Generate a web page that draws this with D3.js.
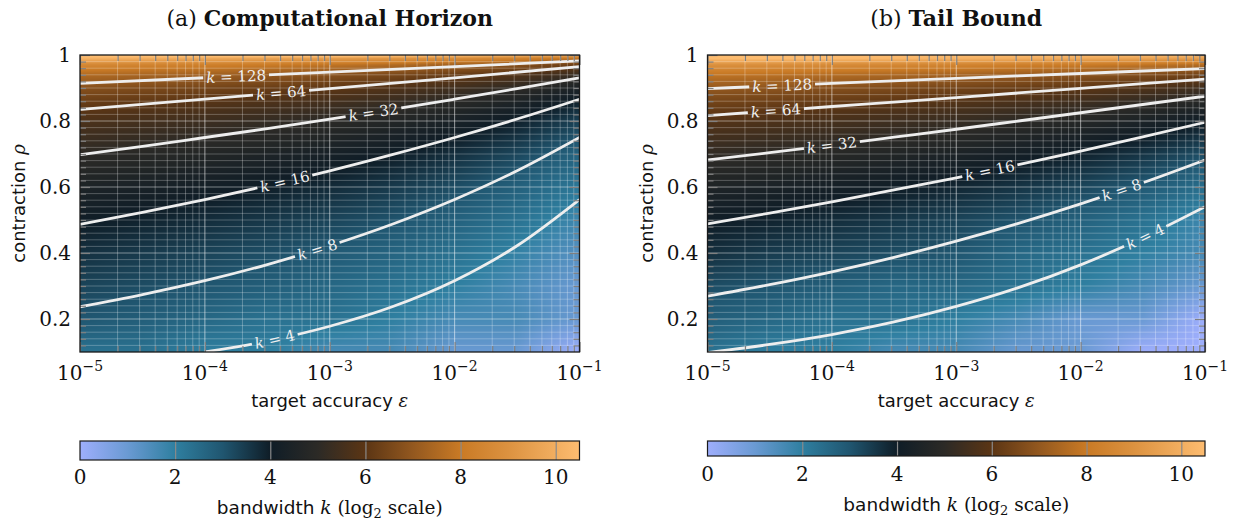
<!DOCTYPE html>
<html>
<head>
<meta charset="utf-8">
<script src="https://cdn.jsdelivr.net/npm/d3@7"></script>
<style>
  body { margin: 0; background: #fff; }
  .serif { font-family: "DejaVu Serif", serif; }
  .sans { font-family: "DejaVu Sans", sans-serif; }
</style>
</head>
<body>
<svg id="chart" width="1234" height="522"></svg>
<script>

// grid columns: log10 of target accuracy eps
var epsCols = [-5, -4.5, -4, -3.5, -3, -2.5, -2, -1.5, -1];

// rows: contraction rho
var rhoRowsA = [0.1, 0.2, 0.3, 0.4, 0.5, 0.6, 0.7, 0.8, 0.85, 0.9, 0.94, 0.97, 0.99, 0.995, 1.0];
var rhoRowsB = [0.1, 0.2, 0.3, 0.4, 0.5, 0.6, 0.7, 0.8, 0.85, 0.9, 0.94, 0.97, 0.99, 1.0];

var log2kA = [
  [2.32, 2.32, 2.00, 2.00, 1.58, 1.58, 1.00, 1.00, 0.00],
  [3.00, 2.81, 2.58, 2.32, 2.32, 2.00, 1.58, 1.58, 1.00],
  [3.32, 3.17, 3.00, 2.81, 2.58, 2.32, 2.00, 1.58, 1.00],
  [3.66, 3.50, 3.33, 3.14, 2.92, 2.66, 2.33, 1.92, 1.33],
  [4.06, 3.90, 3.73, 3.54, 3.32, 3.06, 2.73, 2.32, 1.73],
  [4.50, 4.34, 4.17, 3.98, 3.76, 3.50, 3.17, 2.76, 2.17],
  [5.02, 4.86, 4.69, 4.50, 4.28, 4.02, 3.69, 3.28, 2.69],
  [5.69, 5.53, 5.36, 5.17, 4.95, 4.69, 4.36, 3.95, 3.36],
  [6.15, 5.99, 5.82, 5.63, 5.41, 5.15, 4.82, 4.41, 3.82],
  [6.78, 6.62, 6.45, 6.26, 6.04, 5.78, 5.45, 5.04, 4.45],
  [7.55, 7.39, 7.22, 7.03, 6.81, 6.55, 6.22, 5.81, 5.22],
  [8.57, 8.41, 8.24, 8.05, 7.83, 7.57, 7.24, 6.83, 6.24],
  [10.17, 10.01, 9.84, 9.65, 9.43, 9.17, 8.84, 8.43, 7.84],
  [10.5, 10.5, 10.5, 10.5, 10.43, 10.17, 9.84, 9.43, 8.84],
  [10.5, 10.5, 10.5, 10.5, 10.5, 10.5, 10.5, 10.5, 10.5]
];

// log2 k, (b) tail bound
var log2kB = [
  [2.32, 2.00, 2.00, 1.58, 1.58, 1.00, 1.00, 0.00, 0.00],
  [2.81, 2.58, 2.32, 2.32, 2.00, 1.58, 1.00, 1.00, 0.00],
  [3.17, 3.00, 2.81, 2.58, 2.58, 2.32, 2.00, 1.58, 1.00],
  [3.70, 3.46, 3.32, 3.17, 3.00, 2.58, 2.32, 2.00, 1.58],
  [4.05, 3.90, 3.73, 3.54, 3.32, 3.05, 2.73, 2.32, 1.73],
  [4.54, 4.40, 4.23, 4.05, 3.84, 3.59, 3.29, 2.92, 2.41],
  [5.12, 4.97, 4.82, 4.64, 4.44, 4.21, 3.93, 3.59, 3.14],
  [5.85, 5.72, 5.57, 5.40, 5.22, 5.00, 4.75, 4.44, 4.05],
  [6.35, 6.22, 6.07, 5.91, 5.73, 5.53, 5.29, 5.00, 4.64],
  [7.02, 6.90, 6.76, 6.61, 6.43, 6.24, 6.01, 5.75, 5.42],
  [7.85, 7.73, 7.59, 7.45, 7.29, 7.10, 6.89, 6.65, 6.35],
  [8.94, 8.83, 8.70, 8.57, 8.41, 8.24, 8.05, 7.83, 7.57],
  [10.5, 10.5, 10.42, 10.30, 10.16, 10.01, 9.84, 9.65, 9.42],
  [10.5, 10.5, 10.5, 10.5, 10.5, 10.5, 10.5, 10.5, 10.5]
];

// contour levels and their lines as [log10 eps, rho]
var levels = [4, 8, 16, 32, 64, 128];

var contoursA = [
  [[-4, 0.1], [-3.5, 0.133], [-3, 0.178], [-2.5, 0.237], [-2, 0.316], [-1.5, 0.422], [-1, 0.562]],
  [[-5, 0.237], [-4.5, 0.274], [-4, 0.316], [-3.5, 0.365], [-3, 0.422], [-2.5, 0.487], [-2, 0.562], [-1.5, 0.649], [-1, 0.750]],
  [[-5, 0.487], [-4.5, 0.523], [-4, 0.562], [-3.5, 0.604], [-3, 0.649], [-2.5, 0.698], [-2, 0.750], [-1.5, 0.806], [-1, 0.866]],
  [[-5, 0.698], [-4.5, 0.723], [-4, 0.750], [-3.5, 0.777], [-3, 0.806], [-2.5, 0.835], [-2, 0.866], [-1.5, 0.898], [-1, 0.931]],
  [[-5, 0.835], [-4, 0.866], [-3, 0.898], [-2, 0.931], [-1, 0.965]],
  [[-5, 0.914], [-4, 0.931], [-3, 0.948], [-2, 0.965], [-1, 0.982]]
];

var contoursB = [
  [[-5, 0.098], [-4.5, 0.123], [-4, 0.153], [-3.5, 0.191], [-3, 0.238], [-2.5, 0.295], [-2, 0.364], [-1.5, 0.446], [-1, 0.540]],
  [[-5, 0.269], [-4.5, 0.304], [-4, 0.343], [-3.5, 0.387], [-3, 0.436], [-2.5, 0.490], [-2, 0.549], [-1.5, 0.613], [-1, 0.682]],
  [[-5, 0.488], [-4.5, 0.521], [-4, 0.555], [-3.5, 0.591], [-3, 0.628], [-2.5, 0.668], [-2, 0.709], [-1.5, 0.752], [-1, 0.796]],
  [[-5, 0.682], [-4.5, 0.704], [-4, 0.727], [-3.5, 0.751], [-3, 0.775], [-2.5, 0.800], [-2, 0.825], [-1.5, 0.850], [-1, 0.875]],
  [[-5, 0.816], [-4.5, 0.830], [-4, 0.844], [-3.5, 0.857], [-3, 0.871], [-2.5, 0.885], [-2, 0.899], [-1.5, 0.913], [-1, 0.927]],
  [[-5, 0.898], [-4, 0.914], [-3, 0.929], [-2, 0.944], [-1, 0.959]]
];

// where the inline labels sit (log10 eps), per level
var labelLogEpsA = [-3.44, -3.10, -3.36, -2.65, -3.39, -3.75];
var labelLogEpsB = [-1.48, -1.67, -2.73, -4.00, -4.45, -4.40];

// tick labels
var xTickExp = [-5, -4, -3, -2, -1];
var yTickLabels = ["0.2", "0.4", "0.6", "0.8", "1"];
var cbTickLabels = ["0", "2", "4", "6", "8", "10"];

// colour map
var cmapStops = [0, 1, 2, 3, 4, 5, 6, 7, 8, 9, 10.5];
var cmapColors = ["#9eaefc", "#6a9ad3", "#2f7fa0", "#205670", "#0f1d27", "#2c2a26",
                  "#5b3514", "#93581f", "#c97a25", "#dc9240", "#fdbc70"];

var color = d3.scaleLinear().domain(cmapStops).range(cmapColors)
  .interpolate(d3.interpolateRgb).clamp(true);

var svg = d3.select("#chart");
var top_ = 55, bottom = 352;

var panels = [
  {tag: "(a) ", title: "Computational Horizon", left: 80, right: 579.5, cbH: 19,
   rows: rhoRowsA, grid: log2kA, contours: contoursA, labels: labelLogEpsA, cbLab: 484, cbTitle: 514},
  {tag: "(b) ", title: "Tail Bound", left: 707.5, right: 1205, cbH: 15,
   rows: rhoRowsB, grid: log2kB, contours: contoursB, labels: labelLogEpsB, cbLab: 481, cbTitle: 511}
];

function field(grid, rows, le, rho) {
  var ci = Math.max(0, Math.min(epsCols.length - 2, d3.bisectRight(epsCols, le) - 1));
  var ri = Math.max(0, Math.min(rows.length - 2, d3.bisectRight(rows, rho) - 1));
  var tx = Math.max(0, Math.min(1, (le - epsCols[ci]) / (epsCols[ci + 1] - epsCols[ci])));
  var ty = Math.max(0, Math.min(1, (rho - rows[ri]) / (rows[ri + 1] - rows[ri])));
  var a = grid[ri][ci] * (1 - tx) + grid[ri][ci + 1] * tx;
  var b = grid[ri + 1][ci] * (1 - tx) + grid[ri + 1][ci + 1] * tx;
  return a * (1 - ty) + b * ty;
}

function rhoAt(line, le) {
  for (var i = 0; i < line.length - 1; i++) {
    if (le >= line[i][0] && le <= line[i + 1][0]) {
      var t = (le - line[i][0]) / (line[i + 1][0] - line[i][0]);
      return line[i][1] * (1 - t) + line[i + 1][1] * t;
    }
  }
  return line[line.length - 1][1];
}

var xMinor = [];
for (var d = -5; d < -1; d++) for (var m = 2; m <= 9; m++) xMinor.push(m * Math.pow(10, d));
var yMajor = [0.2, 0.4, 0.6, 0.8, 1.0];
var yMinor = d3.range(6, 50).map(function(i) { return i * 0.02; })
  .filter(function(v) { return Math.abs(v * 5 - Math.round(v * 5)) > 1e-6; });

panels.forEach(function(p, pi) {
  var w = p.right - p.left, h = bottom - top_;
  var x = d3.scaleLog().domain([1e-5, 1e-1]).range([p.left, p.right]);
  var y = d3.scaleLinear().domain([0.1, 1]).range([bottom, top_]);
  var cx = (p.left + p.right) / 2;

  // title
  var t = svg.append("text").attr("class", "serif").attr("x", cx).attr("y", 26)
    .attr("text-anchor", "middle").style("font-size", "22px").attr("fill", "#111");
  t.append("tspan").text(p.tag);
  t.append("tspan").attr("font-weight", "bold").text(p.title);

  // heatmap
  var W = Math.round(w), H = Math.round(h);
  var canvas = document.createElement("canvas");
  canvas.width = W; canvas.height = H;
  var ctx = canvas.getContext("2d");
  var img = ctx.createImageData(W, H);
  for (var j = 0; j < H; j++) {
    var rho = y.invert(top_ + j + 0.5);
    for (var i = 0; i < W; i++) {
      var le = Math.log10(x.invert(p.left + i + 0.5));
      var c = d3.rgb(color(field(p.grid, p.rows, le, rho)));
      var k = (j * W + i) * 4;
      img.data[k] = c.r; img.data[k + 1] = c.g; img.data[k + 2] = c.b; img.data[k + 3] = 255;
    }
  }
  ctx.putImageData(img, 0, 0);
  svg.append("image").attr("x", p.left).attr("y", top_).attr("width", w).attr("height", h)
    .attr("preserveAspectRatio", "none").attr("href", canvas.toDataURL());

  // grid
  var g = svg.append("g");
  g.selectAll(".vmin").data(xMinor).join("line")
    .attr("x1", x).attr("x2", x).attr("y1", top_).attr("y2", bottom)
    .attr("stroke", "#fff").attr("stroke-opacity", 0.28);
  g.selectAll(".vmaj").data(xTickExp.slice(1, 4)).join("line")
    .attr("x1", function(e) { return x(Math.pow(10, e)); }).attr("x2", function(e) { return x(Math.pow(10, e)); })
    .attr("y1", top_).attr("y2", bottom)
    .attr("stroke", "#fff").attr("stroke-opacity", 0.55);
  g.selectAll(".hmin").data(yMinor).join("line")
    .attr("y1", y).attr("y2", y).attr("x1", p.left).attr("x2", p.right)
    .attr("stroke", "#fff").attr("stroke-opacity", 0.25);
  g.selectAll(".hmaj").data(yMajor.slice(0, 4)).join("line")
    .attr("y1", y).attr("y2", y).attr("x1", p.left).attr("x2", p.right)
    .attr("stroke", "#fff").attr("stroke-opacity", 0.45);

  // clip + mask for contour gaps
  var clipId = "clip" + pi, maskId = "mask" + pi;
  var defs = svg.append("defs");
  defs.append("clipPath").attr("id", clipId).append("rect")
    .attr("x", p.left).attr("y", top_).attr("width", w).attr("height", h);
  var mask = defs.append("mask").attr("id", maskId).attr("maskUnits", "userSpaceOnUse")
    .attr("x", 0).attr("y", 0).attr("width", 1234).attr("height", 522);
  mask.append("rect").attr("x", 0).attr("y", 0).attr("width", 1234).attr("height", 522).attr("fill", "#fff");

  var line = d3.line()
    .x(function(d) { return x(Math.pow(10, d[0])); })
    .y(function(d) { return y(d[1]); })
    .curve(d3.curveMonotoneX);

  var cg = svg.append("g").attr("clip-path", "url(#" + clipId + ")");
  var lines = cg.append("g").attr("mask", "url(#" + maskId + ")");
  lines.selectAll("path").data(p.contours).join("path")
    .attr("d", line).attr("fill", "none")
    .attr("stroke", "#eeeeee").attr("stroke-width", 2.8);

  // inline labels
  p.contours.forEach(function(cl, li) {
    var le = p.labels[li];
    var lx = x(Math.pow(10, le)), ly = y(rhoAt(cl, le));
    var x0 = x(Math.pow(10, le - 0.08)), y0 = y(rhoAt(cl, le - 0.08));
    var x1 = x(Math.pow(10, le + 0.08)), y1 = y(rhoAt(cl, le + 0.08));
    var ang = Math.atan2(y1 - y0, x1 - x0) * 180 / Math.PI;
    var lab = cg.append("text").attr("class", "serif")
      .attr("transform", "translate(" + lx + "," + ly + ") rotate(" + ang + ")")
      .attr("text-anchor", "middle").attr("dy", "0.35em")
      .style("font-size", "15px").attr("fill", "#f0f0f0");
    lab.append("tspan").attr("font-style", "italic").text("k");
    lab.append("tspan").text(" = " + levels[li]);
    var tw = lab.node().getComputedTextLength();
    mask.append("rect")
      .attr("x", -tw / 2 - 3).attr("y", -7).attr("width", tw + 6).attr("height", 14)
      .attr("transform", "translate(" + lx + "," + ly + ") rotate(" + ang + ")")
      .attr("fill", "#000");
  });

  // ticks (inward) via axes
  function tickAxis(axis, tr) {
    var a = svg.append("g").attr("transform", tr).call(axis);
    a.select(".domain").remove();
    a.selectAll(".tick line").attr("stroke", "#808080").attr("stroke-width", 1.2);
    a.selectAll(".tick text").remove();
  }
  var majX = xTickExp.map(function(e) { return Math.pow(10, e); });
  tickAxis(d3.axisBottom(x).tickValues(xMinor).tickSize(-6), "translate(0," + bottom + ")");
  tickAxis(d3.axisBottom(x).tickValues(majX).tickSize(-10), "translate(0," + bottom + ")");
  tickAxis(d3.axisTop(x).tickValues(xMinor).tickSize(-6), "translate(0," + top_ + ")");
  tickAxis(d3.axisTop(x).tickValues(majX).tickSize(-10), "translate(0," + top_ + ")");
  tickAxis(d3.axisLeft(y).tickValues(yMinor).tickSize(-6), "translate(" + p.left + ",0)");
  tickAxis(d3.axisLeft(y).tickValues(yMajor).tickSize(-10), "translate(" + p.left + ",0)");
  tickAxis(d3.axisRight(y).tickValues(yMinor).tickSize(-6), "translate(" + p.right + ",0)");
  tickAxis(d3.axisRight(y).tickValues(yMajor).tickSize(-10), "translate(" + p.right + ",0)");

  // frame
  svg.append("rect").attr("x", p.left).attr("y", top_).attr("width", w).attr("height", h)
    .attr("fill", "none").attr("stroke", "#1a1a1a").attr("stroke-width", 1.3);

  // x tick labels
  xTickExp.forEach(function(e) {
    var tt = svg.append("text").attr("class", "serif").attr("x", x(Math.pow(10, e))).attr("y", 380)
      .attr("text-anchor", "middle").style("font-size", "20px").attr("fill", "#111");
    tt.append("tspan").text("10");
    tt.append("tspan").attr("dy", -9).style("font-size", "14px").text("\u2212" + (-e));
  });

  // y tick labels
  yTickLabels.forEach(function(s, i) {
    svg.append("text").attr("class", "serif").attr("x", p.left - 9).attr("y", y(yMajor[i]) + 7)
      .attr("text-anchor", "end").style("font-size", "20px").attr("fill", "#111").text(s);
  });

  // axis labels
  var xl = svg.append("text").attr("x", cx).attr("y", 407).attr("text-anchor", "middle")
    .style("font-size", "18px").attr("fill", "#111");
  xl.append("tspan").attr("class", "sans").text("target accuracy ");
  xl.append("tspan").attr("class", "serif").attr("font-style", "italic").text("\u03b5");

  var yl = svg.append("text").attr("transform", "translate(" + (p.left - 55) + "," + ((top_ + bottom) / 2) + ") rotate(-90)")
    .attr("text-anchor", "middle").style("font-size", "18px").attr("fill", "#111");
  yl.append("tspan").attr("class", "sans").text("contraction ");
  yl.append("tspan").attr("class", "serif").attr("font-style", "italic").text("\u03c1");

  // colour bar
  var cbx = d3.scaleLinear().domain([0, 10.5]).range([p.left, p.right]);
  var gid = "grad" + pi;
  var grad = defs.append("linearGradient").attr("id", gid)
    .attr("gradientUnits", "userSpaceOnUse")
    .attr("x1", p.left).attr("x2", p.right).attr("y1", 0).attr("y2", 0);
  grad.selectAll("stop").data(cmapStops).join("stop")
    .attr("offset", function(v) { return v / 10.5; })
    .attr("stop-color", function(v, i) { return cmapColors[i]; });
  svg.append("rect").attr("x", p.left).attr("y", 441).attr("width", w).attr("height", p.cbH)
    .attr("fill", "url(#" + gid + ")");
  var cbAxis = svg.append("g").attr("transform", "translate(0," + (441 + p.cbH) + ")")
    .call(d3.axisBottom(cbx).tickValues([2, 4, 6, 8, 10]).tickSize(-p.cbH).tickFormat(""));
  cbAxis.select(".domain").remove();
  cbAxis.selectAll(".tick line").attr("stroke", "#8a8a8a").attr("stroke-width", 1.2);
  svg.append("rect").attr("x", p.left).attr("y", 441).attr("width", w).attr("height", p.cbH)
    .attr("fill", "none").attr("stroke", "#1a1a1a").attr("stroke-width", 1.2);
  cbTickLabels.forEach(function(s) {
    svg.append("text").attr("class", "serif").attr("x", cbx(+s)).attr("y", p.cbLab)
      .attr("text-anchor", "middle").style("font-size", "20px").attr("fill", "#111").text(s);
  });
  var ct = svg.append("text").attr("x", cx).attr("y", p.cbTitle).attr("text-anchor", "middle")
    .style("font-size", "18.5px").attr("fill", "#111");
  ct.append("tspan").attr("class", "sans").text("bandwidth ");
  ct.append("tspan").attr("class", "serif").attr("font-style", "italic").text("k");
  ct.append("tspan").attr("class", "serif").text(" (log");
  ct.append("tspan").attr("class", "serif").attr("dy", 4).style("font-size", "13px").text("2");
  ct.append("tspan").attr("class", "serif").attr("dy", -4).text(" scale)");
});
</script>
</body>
</html>
